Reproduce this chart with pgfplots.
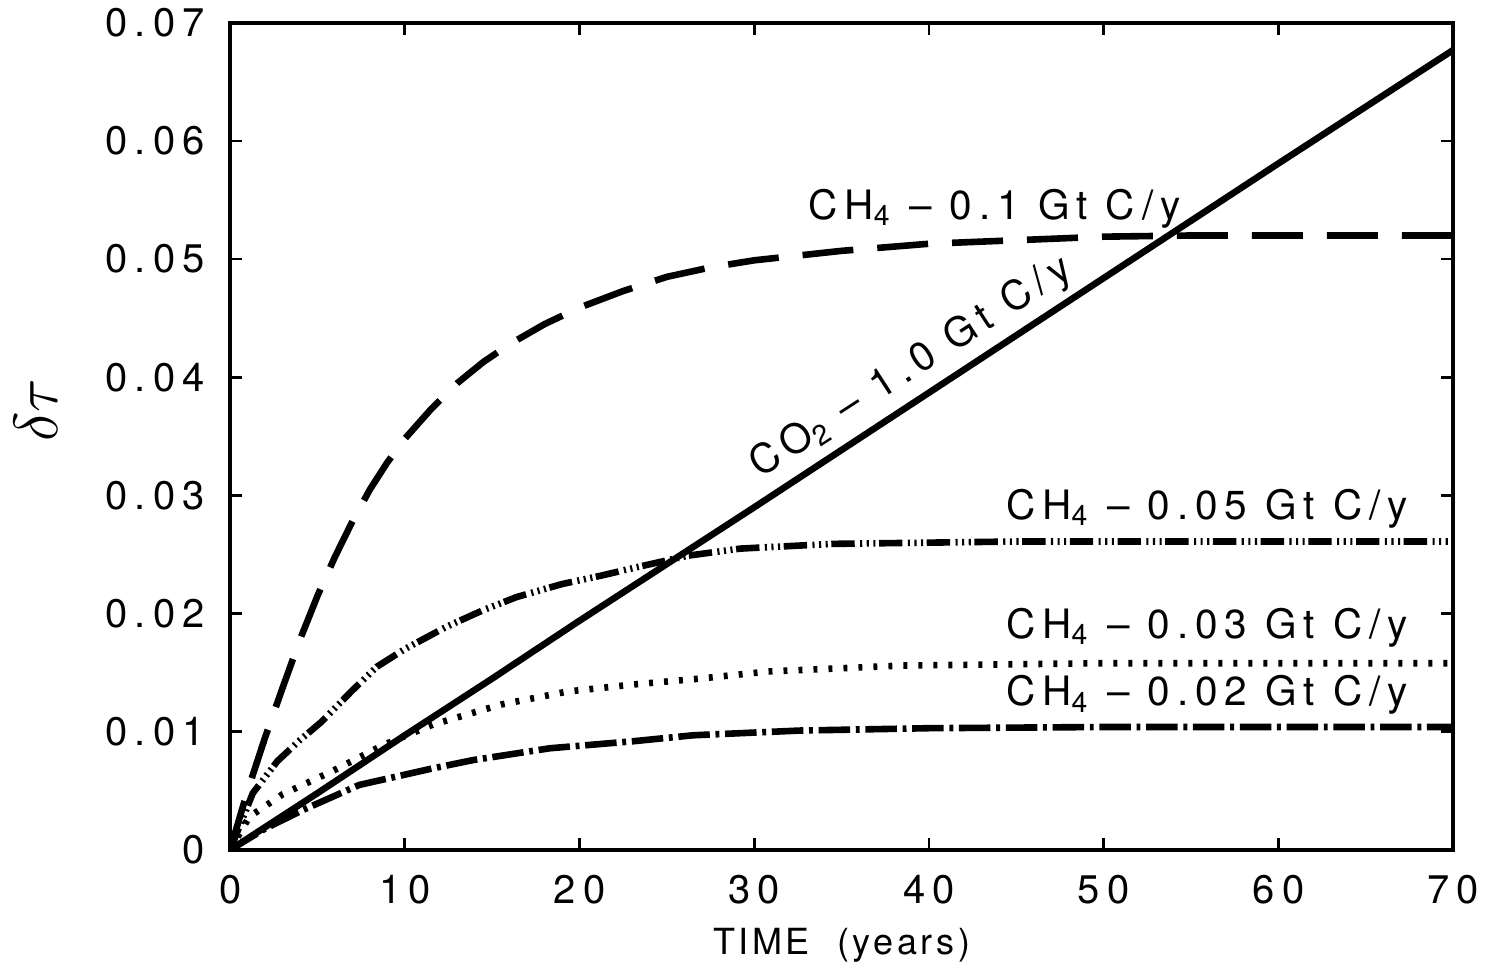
\documentclass[border=0pt]{standalone}
\usepackage{fontspec}
\setmainfont{TeX Gyre Heros}[LetterSpace=10]
\newfontfamily\tickfont{TeX Gyre Heros}[LetterSpace=18]
\newfontfamily\labfont{TeX Gyre Heros}[LetterSpace=17]
\usepackage{pgfplots}
\pgfplotsset{compat=1.18}

\begin{document}
\begin{tikzpicture}
\path[use as bounding box] (-76.7pt,-39.7pt) rectangle (418.3pt,283.3pt);
\begin{axis}[
    at={(0,0)}, anchor=south west,
    scale only axis,
    width=407.7pt, height=275.7pt,
    xmin=0, xmax=70,
    ymin=0, ymax=0.07,
    xtick={0,10,20,30,40,50,60,70},
    ytick={0,0.01,0.02,0.03,0.04,0.05,0.06,0.07},
    yticklabels={0,0.01,0.02,0.03,0.04,0.05,0.06,0.07},
    scaled y ticks=false,
    /pgf/number format/assume math mode=true,
    tick align=inside,
    major tick length=4pt,
    tick style={line width=0.9pt, black},
    axis line style={line width=1.3pt},
    ticklabel style={font=\tickfont\fontsize{13.3}{15}\selectfont},
    yticklabel style={anchor=east, inner sep=0pt, xshift=-8.3pt},
    xticklabel style={anchor=north, inner sep=0pt, yshift=-8.3pt},
    xlabel={TIME\ \ (years)},
    xlabel style={font=\fontsize{12}{14}\selectfont, at={(axis description cs:0.5,-0.115)}, anchor=center},
    ylabel={$\delta\tau$},
    ylabel style={font=\fontsize{22}{26}\selectfont, at={(axis description cs:-0.159,0.532)}, anchor=center},
]

% CO2 - 1.0 Gt C/y
\addplot[black, line width=2.2pt] coordinates {
    (0,0) (5,0.0048) (10,0.0097) (15,0.0145) (20,0.0194) (25,0.0242)
    (30,0.0290) (40,0.0387) (50,0.0484) (60,0.0581) (70,0.0677)
};

% CH4 - 0.1 Gt C/y
\addplot[black, line width=2.2pt, dash pattern=on 17pt off 8pt] coordinates {
    (0,0) (1,0.0050) (2,0.0095) (3,0.0137) (4,0.0178) (5,0.0215) (6,0.0248)
    (7,0.0278) (8,0.0305) (9,0.0328) (10,0.0348) (11.5,0.0373) (13,0.0395)
    (14.5,0.0413) (16,0.0428) (18,0.0445) (20,0.0459) (22.5,0.0473)
    (25,0.0485) (27.5,0.0493) (30,0.0499) (35,0.0507) (40,0.0513)
    (45,0.0516) (50,0.0519) (55,0.0520) (70,0.0520)
};

% CH4 - 0.05 Gt C/y
\addplot[black, line width=2.2pt,
    dash pattern=on 7.8pt off 1.8pt on 0.7pt off 1.5pt on 0.7pt off 1.5pt on 0.7pt off 1.2pt] coordinates {
    (0,0) (1.3,0.0048) (2.7,0.0075) (4,0.0093) (5.2,0.0108) (7,0.0135)
    (8.4,0.0155) (10,0.0170) (12.4,0.0189) (14.5,0.0203) (16.4,0.0214)
    (19,0.0225) (21.2,0.0232) (23.5,0.0240) (26.2,0.0249) (29.2,0.0255)
    (34.5,0.0259) (45,0.0261) (70,0.0261)
};

% CH4 - 0.03 Gt C/y
\addplot[black, line width=2.2pt, dash pattern=on 1.3pt off 3.7pt] coordinates {
    (0,0) (1.1,0.0028) (3,0.0047) (5.9,0.0067) (8.8,0.0089) (11.6,0.0106)
    (15.5,0.0123) (19.3,0.0134) (23.1,0.0140) (26.9,0.0145) (30.8,0.0151)
    (38.4,0.0156) (50,0.0158) (70,0.0158)
};

% CH4 - 0.02 Gt C/y
\addplot[black, line width=2.2pt, dash pattern=on 10.5pt off 1.9pt on 1.3pt off 1.9pt] coordinates {
    (0,0) (2,0.0018) (4.2,0.0034) (7.4,0.0055) (11.6,0.0069) (13.9,0.0076)
    (18.3,0.0086) (23.1,0.0092) (26.5,0.0097) (32.6,0.0101) (40,0.0103)
    (50,0.0104) (70,0.0104)
};

\node[font=\labfont\fontsize{13.5}{16}\selectfont, anchor=east] at (axis cs:55.0,0.0543) {CH\textsubscript{4} \textendash{} 0.1 Gt C/y};
\node[font=\labfont\fontsize{13.5}{16}\selectfont, rotate=33] at (axis cs:39.0,0.0408) {CO\textsubscript{2} \textendash{} 1.0 Gt C/y};
\node[font=\labfont\fontsize{13.5}{16}\selectfont, anchor=east] at (axis cs:68.0,0.0289) {CH\textsubscript{4} \textendash{} 0.05 Gt C/y};
\node[font=\labfont\fontsize{13.5}{16}\selectfont, anchor=east] at (axis cs:68.0,0.0188) {CH\textsubscript{4} \textendash{} 0.03 Gt C/y};
\node[font=\labfont\fontsize{13.5}{16}\selectfont, anchor=east] at (axis cs:68.0,0.0131) {CH\textsubscript{4} \textendash{} 0.02 Gt C/y};

\end{axis}
\end{tikzpicture}
\end{document}
